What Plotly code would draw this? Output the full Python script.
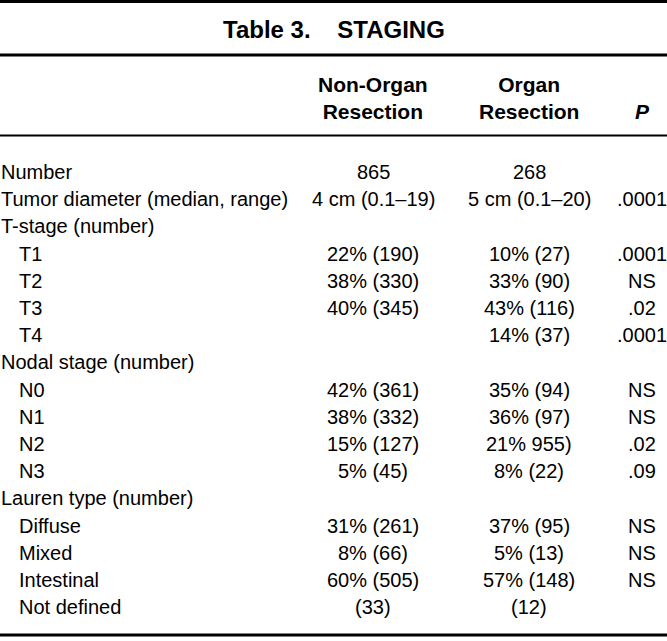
import plotly.graph_objects as go

title = "Table 3.    STAGING"
col_headers = ["Non-Organ<br>Resection", "Organ<br>Resection", "<i>P</i>"]

row_labels = ["Number", "Tumor diameter (median, range)", "T-stage (number)",
              "T1", "T2", "T3", "T4",
              "Nodal stage (number)", "N0", "N1", "N2", "N3",
              "Lauren type (number)", "Diffuse", "Mixed", "Intestinal", "Not defined"]
indented = [False, False, False, True, True, True, True,
            False, True, True, True, True,
            False, True, True, True, True]
non_organ = ["865", "4 cm (0.1–19)", "", "22% (190)", "38% (330)", "40% (345)", "",
             "", "42% (361)", "38% (332)", "15% (127)", "5% (45)",
             "", "31% (261)", "8% (66)", "60% (505)", "(33)"]
organ = ["268", "5 cm (0.1–20)", "", "10% (27)", "33% (90)", "43% (116)", "14% (37)",
         "", "35% (94)", "36% (97)", "21% 955)", "8% (22)",
         "", "37% (95)", "5% (13)", "57% (148)", "(12)"]
p_values = ["", ".0001", "", ".0001", "NS", ".02", ".0001",
            "", "NS", "NS", ".02", ".09",
            "", "NS", "NS", "NS", ""]

W, H = 667, 641
FONT = "Liberation Sans, Arial, Helvetica, sans-serif"
body_size = 20

fig = go.Figure()
fig.add_trace(go.Scatter(x=[0, W], y=[0, H], mode="markers",
                         marker=dict(opacity=0), hoverinfo="skip", showlegend=False))

ann = []
ann.append(dict(x=W / 2, y=29, text="<b>" + title + "</b>", showarrow=False,
                xanchor="center", yanchor="middle",
                font=dict(family=FONT, size=24, color="black")))
col_x = [373, 529, 642]
for cx, h in zip(col_x, col_headers):
    ann.append(dict(x=cx, y=125, text="<b>" + h + "</b>", showarrow=False,
                    xanchor="center", yanchor="bottom", align="center",
                    font=dict(family=FONT, size=21, color="black")))

y0, dy = 172, 27.2
for i, lab in enumerate(row_labels):
    y = y0 + dy * i
    ann.append(dict(x=19 if indented[i] else 1, xshift=-2, y=y, text=lab, showarrow=False,
                    xanchor="left", yanchor="middle",
                    font=dict(family=FONT, size=body_size, color="black")))
    for cx, vals in zip(col_x, [non_organ, organ, p_values]):
        if vals[i]:
            ann.append(dict(x=cx, y=y, text=vals[i], showarrow=False,
                            xanchor="center", yanchor="middle",
                            font=dict(family=FONT, size=body_size, color="black")))

shapes = [
    dict(type="line", x0=0, x1=W, y0=1.5, y1=1.5, line=dict(color="black", width=3)),
    dict(type="line", x0=0, x1=W, y0=55, y1=55, line=dict(color="black", width=3)),
    dict(type="line", x0=0, x1=W, y0=135.5, y1=135.5, line=dict(color="black", width=2)),
    dict(type="line", x0=0, x1=W, y0=635, y1=635, line=dict(color="black", width=3)),
]

fig.update_layout(
    width=W, height=H, autosize=False,
    margin=dict(l=0, r=0, t=0, b=0),
    paper_bgcolor="white", plot_bgcolor="white",
    xaxis=dict(range=[0, W], visible=False, fixedrange=True),
    yaxis=dict(range=[H, 0], visible=False, fixedrange=True),
    annotations=ann, shapes=shapes, showlegend=False,
)
fig.write_html("out.html", config={"displayModeBar": False},
               post_script="document.body.style.margin='0';document.body.style.overflow='hidden';")
